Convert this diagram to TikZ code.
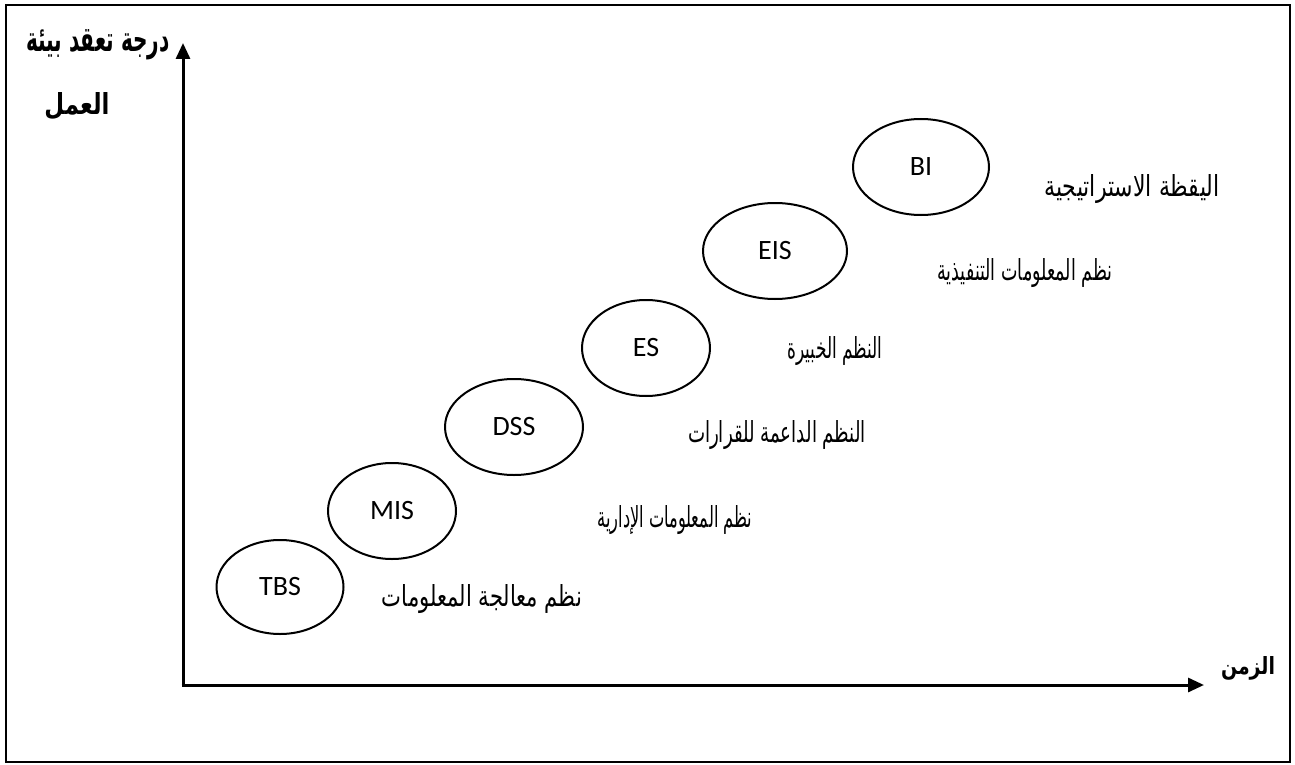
\documentclass[tikz,border=0pt]{standalone}
\usepackage{fontspec}
\usetikzlibrary{shapes.geometric,arrows.meta}
\TeXXeTstate=1
\newfontfamily\arabicfont[Script=Arabic]{DejaVu Sans}
\newfontfamily\latinfont{Carlito}
\newcommand{\artext}[3]{\resizebox{#1}{#2}{#3}}
\tikzset{
  sysell/.style={draw, line width=2pt, ellipse, inner sep=0pt, font=\latinfont\fontsize{28}{30}\selectfont},
  syslabel/.style={inner sep=0pt, font=\arabicfont\fontsize{22}{26}\selectfont},
  axislabel/.style={inner sep=0pt, font=\arabicfont\bfseries\fontsize{22}{26}\selectfont},
  axisline/.style={line width=3pt, -{Triangle[length=16pt,width=14pt]}}
}
\begin{document}
\begin{tikzpicture}[x=1pt,y=-1pt]
\useasboundingbox (0,0) rectangle (1295,765);
\draw[line width=2pt] (6,5) rectangle (1290,762);
% axes
\coordinate (o) at (183,685);
\coordinate (ytip) at (183,43);
\coordinate (xtip) at (1204,685);
\draw[axisline] (o) -- (ytip);
\draw[axisline] ([xshift=-1.5pt]o) -- (xtip);
% axis labels
\node[axislabel] (ylab1) at (98,45) {\artext{143pt}{22pt}{\beginR درجة تعقد بيئة\endR}};
\node[axislabel] (ylab2) at (77,106) {\artext{65pt}{22pt}{\beginR العمل\endR}};
\node[axislabel] (xlab) at (1248,668) {\artext{54pt}{18pt}{\beginR الزمن\endR}};
% ellipses
\node[sysell, minimum width=127pt, minimum height=94pt] (tbs) at (280,587) {TBS};
\node[sysell, minimum width=128pt, minimum height=96pt] (mis) at (392,511) {MIS};
\node[sysell, minimum width=138pt, minimum height=96pt] (dss) at (514,427) {DSS};
\node[sysell, minimum width=128pt, minimum height=96pt] (es) at (646,348) {ES};
\node[sysell, minimum width=144pt, minimum height=96pt] (eis) at (775,251) {EIS};
\node[sysell, minimum width=136pt, minimum height=96pt] (bi) at (921,167) {BI};
% labels
\node[syslabel] (ltbs) at (482,599) {\artext{200pt}{22pt}{\beginR نظم معالجة المعلومات\endR}};
\node[syslabel] (lmis) at (675,520) {\artext{155pt}{22pt}{\beginR نظم المعلومات الإدارية\endR}};
\node[syslabel] (ldss) at (777,435) {\artext{178pt}{22pt}{\beginR النظم الداعمة للقرارات\endR}};
\node[syslabel] (les) at (835,351) {\artext{95pt}{22pt}{\beginR النظم الخبيرة\endR}};
\node[syslabel] (leis) at (1025,273) {\artext{175pt}{22pt}{\beginR نظم المعلومات التنفيذية\endR}};
\node[syslabel] (lbi) at (1132,189) {\artext{175pt}{22pt}{\beginR اليقظة الاستراتيجية\endR}};
\end{tikzpicture}
\end{document}
